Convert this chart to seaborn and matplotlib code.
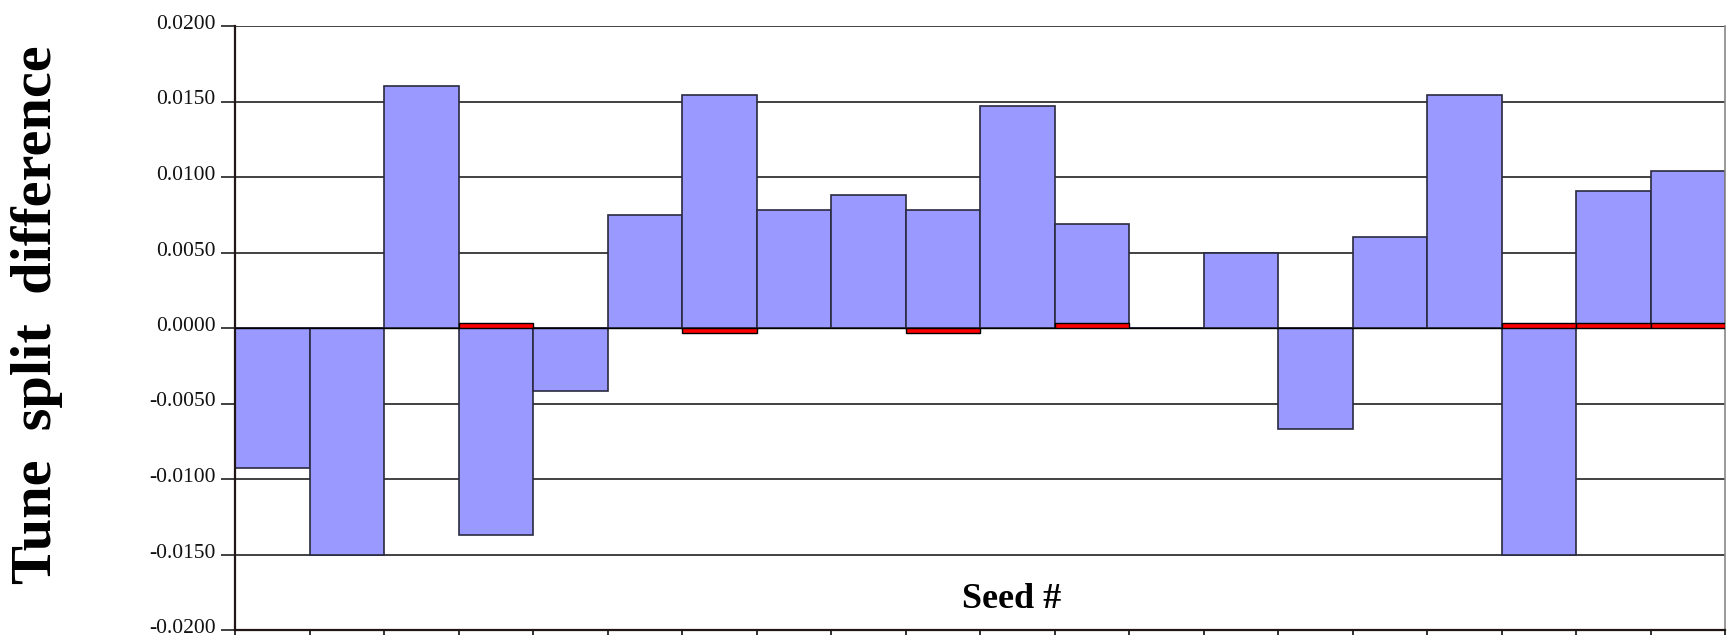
import numpy as np
import pandas as pd
import matplotlib
matplotlib.use("Agg")
import matplotlib.pyplot as plt
import matplotlib.transforms as mtransforms
import seaborn as sns

# Tune split difference per seed: main series and the small correction series
seeds = [str(i) for i in range(1, 21)]
split_diff = [-0.0093, -0.0150, 0.0160, -0.0137, -0.0042, 0.0075, 0.0154, 0.0078,
              0.0088, 0.0078, 0.0147, 0.0069, 0.0000, 0.0050, -0.0067, 0.0060,
              0.0154, -0.0150, 0.0091, 0.0104]
correction = [0.0, 0.0, 0.0, 0.0003, 0.0, 0.0, -0.0003, 0.0, 0.0, -0.0003,
              0.0, 0.0003, 0.0, 0.0, 0.0, 0.0, 0.0, 0.0003, 0.0003, 0.0003]
y_ticks = [-0.02, -0.015, -0.01, -0.005, 0.0, 0.005, 0.01, 0.015, 0.02]
y_tick_labels = ["-0.0200", "-0.0150", "-0.0100", "-0.0050", "0.0000",
                 "0.0050", "0.0100", "0.0150", "0.0200"]

sns.set_theme(style="white")
plt.rcParams["font.family"] = ["Liberation Serif", "DejaVu Serif"]

df = pd.DataFrame({"seed": seeds, "diff": split_diff, "corr": correction})

fig = plt.figure(figsize=(17.27, 6.35), dpi=100)
ax = fig.add_axes([235 / 1727, 1 - 630 / 635, 1490 / 1727, 604 / 635])

sns.barplot(data=df, x="seed", y="diff", order=seeds, width=1.0,
            color="#9999FF", saturation=1, edgecolor="#2a2a40", linewidth=1.2,
            ax=ax, zorder=2)
sns.barplot(data=df, x="seed", y="corr", order=seeds, width=1.0,
            color="#FF0000", saturation=1, edgecolor="#000000", linewidth=1.0,
            ax=ax, zorder=3)

ax.set_xlim(-0.5, len(seeds) - 0.5)
ax.set_ylim(y_ticks[0], y_ticks[-1])

# horizontal grid
ax.set_axisbelow(True)
ax.yaxis.grid(True, color="#333333", linewidth=1.3)
ax.xaxis.grid(False)

ax.set_yticks(y_ticks)
ax.set_yticklabels(y_tick_labels, fontsize=15.5, color="#111111")
ax.tick_params(axis="y", direction="out", length=10, width=1.3,
               color="#333333", pad=4, left=True)
offset = mtransforms.ScaledTranslation(0, 0.04, fig.dpi_scale_trans)
for lab in ax.get_yticklabels():
    lab.set_transform(lab.get_transform() + offset)

# category boundary ticks along the bottom
ax.set_xticks(np.arange(len(seeds) + 1) - 0.5)
ax.set_xticklabels([""] * (len(seeds) + 1))
ax.tick_params(axis="x", direction="out", length=10, width=1.3,
               color="#222222", bottom=True)

for side in ["left", "bottom"]:
    ax.spines[side].set_visible(True)
    ax.spines[side].set_color("#221515")
    ax.spines[side].set_linewidth(1.6)
ax.spines["top"].set_visible(False)
ax.spines["right"].set_visible(True)
ax.spines["right"].set_color("#888888")
ax.spines["right"].set_linewidth(1.2)

ax.set_xlabel("Seed #", fontsize=26, fontweight="bold", color="#000000")
ax.xaxis.set_label_coords(0.521, 0.05)
ax.xaxis.label.set_va("center")

ax.set_ylabel("Tune  split  difference", fontsize=42, fontweight="bold",
              color="#000000")
ax.yaxis.set_label_coords(-0.133, 0.522)
ax.yaxis.label.set_va("center")

fig.savefig("out.png", dpi=100)
